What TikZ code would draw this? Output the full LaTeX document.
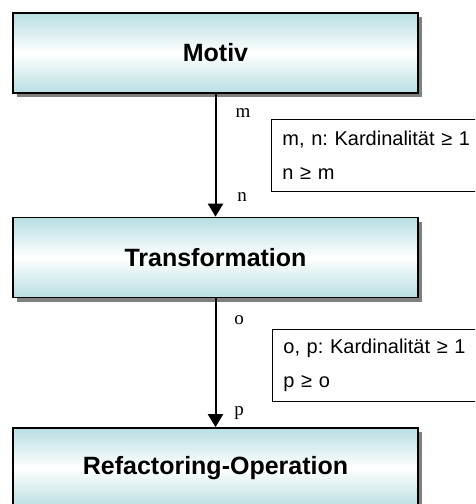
\documentclass[tikz,border=0pt]{standalone}
\usepackage{fontspec}
\setmainfont{Liberation Sans}
\newfontfamily\labelfont{Liberation Serif}
\usetikzlibrary{arrows.meta,shadows}
\definecolor{boxteal}{RGB}{184,222,226}
\frenchspacing
\tikzset{
  stage/.style={draw=black, line width=1.6pt, minimum width=405pt, minimum height=80pt,
    top color=boxteal, bottom color=boxteal, middle color=white,
    font=\fontsize{25}{29}\selectfont\bfseries,
    drop shadow={shadow xshift=4pt, shadow yshift=-4pt, fill=black!50, opacity=1}},
  note/.style={draw=black, line width=0.8pt, fill=white, anchor=north west,
    minimum width=220pt, minimum height=72pt, align=left, inner xsep=11pt,
    text width=198pt, font=\fontsize{20}{23}\selectfont},
  card/.style={font=\labelfont\fontsize{19}{22}\selectfont, inner sep=0pt},
  flow/.style={line width=2pt, -{Triangle[width=15pt,length=13pt]}}
}
\begin{document}
\begin{tikzpicture}[x=1pt,y=-1pt]
  \useasboundingbox (0,0) rectangle (475,504);
  \clip (0,0) rectangle (475,504);
  \fill[white] (0,0) rectangle (475,504);

  % the three stages
  \node[stage] (motiv) at (215.5,53) {Motiv};
  \node[stage] (trans) at (215.5,257.5) {Transformation};
  \node[stage] (refac) at (215.5,468) {Refactoring-Operation};

  % connectors between the stages
  \draw[flow] (motiv.south) -- (trans.north);
  \draw[flow] (trans.south) -- (refac.north);

  % cardinalities at the connector ends
  \node[card] (cm) at (243,113) {m};
  \node[card] (cn) at (242,197) {n};
  \node[card] (co) at (239,320) {o};
  \node[card] (cp) at (239,413) {p};

  % constraints on the cardinalities
  \node[note] (note1) at (271,119) {m, n: Kardinalität ≥ 1\\[11pt]n ≥ m};
  \node[note] (note2) at (272,328.5) {o, p: Kardinalität ≥ 1\\[11pt]p ≥ o};
\end{tikzpicture}
\end{document}
